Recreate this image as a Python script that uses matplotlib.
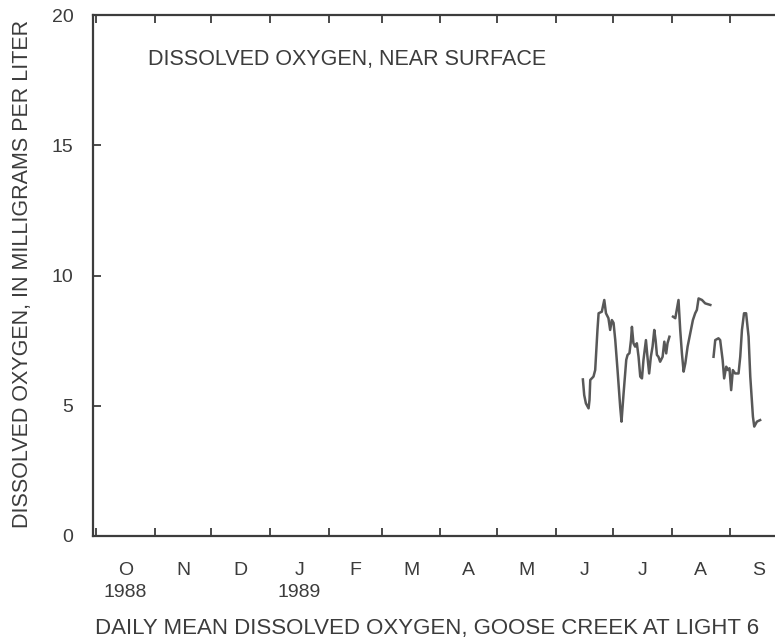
import numpy as np
import matplotlib
matplotlib.use("Agg")
import matplotlib.pyplot as plt

plt.rcParams['font.family'] = ['Liberation Sans', 'DejaVu Sans']

# day of water year (0 = Oct 1 1988), daily mean DO (mg/L); NaN = missing record
day = [257.2, 257.9, 258.8, 260.2, 260.7, 261.1, 262.8, 263.7, 264.9, 265.5,
       267.2, 268.5, 269.4, 270.7, 271.6, 272.5, 273.4, 274.3, 275.5, 276.9,
       277.6, 278.7, 280.1, 280.8, 281.8, 282.6, 283.1, 283.9, 284.8, 285.7,
       286.6, 287.5, 288.4, 289.2, 290.5, 291.3, 292.2, 293.1, 294.0, 294.9,
       295.6, 296.3, 297.1, 298.0, 299.3, 300.2, 301.2, 301.9, 302.9, 303.8,
       304.8, 306.0, 307.7, 308.6, 309.5, 310.4, 311.3, 312.5, 313.9, 315.3,
       316.5, 317.4, 318.3, 320.1, 321.8, 324.5, 325.4,
       326.2, 327.1, 328.8, 329.7, 331.0, 331.8, 332.9, 333.8, 334.6, 335.5,
       336.4, 337.6, 339.4, 340.3, 341.2, 342.3, 343.4, 344.7, 345.6, 347.0,
       347.7, 349.1, 350.8]
do_mgl = [6.01, 5.41, 5.09, 4.90, 5.22, 5.99, 6.12, 6.37, 7.91, 8.55,
          8.61, 9.06, 8.55, 8.36, 7.91, 8.29, 8.18, 7.52, 6.37, 4.96,
          4.39, 5.48, 6.76, 6.95, 7.02, 7.52, 8.03, 7.40, 7.27, 7.40,
          6.88, 6.12, 6.05, 6.76, 7.52, 6.88, 6.24, 6.88, 7.27, 7.91,
          7.52, 6.95, 6.88, 6.69, 6.88, 7.46, 7.01, 7.40, 7.65, np.nan,
          8.42, 8.36, 9.06, 7.91, 7.01, 6.31, 6.63, 7.27, 7.78, 8.29,
          8.55, 8.68, 9.12, 9.06, 8.93, 8.87, np.nan,
          6.88, 7.52, 7.59, 7.52, 6.76, 6.05, 6.50, 6.37, 6.44, 5.60,
          6.37, 6.24, 6.24, 6.88, 7.91, 8.55, 8.55, 7.65, 6.12, 4.58,
          4.20, 4.39, 4.45]

month_starts = [0, 31, 61, 92, 123, 151, 182, 212, 243, 273, 304, 335, 365]
month_labels = ['O\n1988', 'N', 'D', 'J\n1989', 'F', 'M', 'A', 'M', 'J', 'J', 'A', 'S']
y_ticks = [0, 5, 10, 15, 20]

ink = '#3c3c3c'
fig = plt.figure(figsize=(7.75, 6.39), dpi=100)
ax = fig.add_axes([0.12, 0.1612, 0.8955, 0.8153])

ax.plot(day, do_mgl, color='#585858', lw=1.8)

ax.set_xlim(-1.5, 365)
ax.set_ylim(0, 20)
ax.set_yticks(y_ticks)
ax.set_xticks(month_starts)
ax.set_xticklabels([])
mids = [(a + b) / 2 for a, b in zip(month_starts[:-1], month_starts[1:])]
ax.set_xticks(mids, minor=True)
ax.set_xticklabels(month_labels, minor=True, va='top', linespacing=1.4)
ax.tick_params(axis='x', which='minor', length=0, pad=18.5, labelsize=14, labelcolor=ink)
ax.tick_params(which='major', direction='in', length=6, width=1.3, color=ink,
               top=True, right=True, labelsize=14, labelcolor=ink)
ax.tick_params(axis='y', pad=14)

for s in ax.spines.values():
    s.set_linewidth(1.6)
    s.set_color(ink)

ax.text(0.079, 0.914, 'DISSOLVED OXYGEN, NEAR SURFACE', transform=ax.transAxes,
        fontsize=15.5, color=ink, va='center', ha='left')
fig.text(0.029, 0.571, 'DISSOLVED OXYGEN, IN MILLIGRAMS PER LITER', rotation=90,
         fontsize=15.5, color=ink, ha='center', va='center')
fig.text(0.551, 0.017, 'DAILY MEAN DISSOLVED OXYGEN, GOOSE CREEK AT LIGHT 6',
         fontsize=16, color=ink, ha='center', va='center')

fig.savefig('out.png', dpi=100)
